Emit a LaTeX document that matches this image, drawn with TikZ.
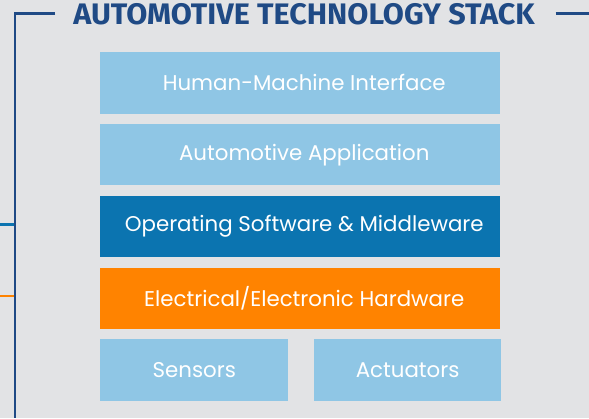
\documentclass[tikz,border=0pt]{standalone}
\usepackage{fontspec}
\setmainfont{Poppins}
\newfontfamily\titlefont{Fira Sans}
\definecolor{bgray}{HTML}{E2E3E5}
\definecolor{navy}{HTML}{1F4A85}
\definecolor{skyblue}{HTML}{8FC6E5}
\definecolor{deepblue}{HTML}{0B74B0}
\definecolor{amber}{HTML}{FF8300}
\begin{document}
\begin{tikzpicture}[x=0.75pt,y=-0.75pt,
    layer/.style={anchor=north west,inner sep=0pt,minimum width=300pt,minimum height=46pt,
      text=white,font=\fontsize{16}{19}\selectfont},
    halflayer/.style={layer,minimum width=141pt},
    frame/.style={navy,line width=1.6pt},
    stub/.style={line width=1.6pt}]
  \fill[bgray] (0,0) rectangle (589,418);
  \useasboundingbox (0,0) rectangle (589,418);
  % title and frame
  \node[navy,inner sep=0pt,anchor=base] (title) at (304,24)
    {\resizebox{346pt}{15.8pt}{\titlefont\bfseries AUTOMOTIVE TECHNOLOGY STACK}};
  \coordinate (tl) at (55,13.5);
  \coordinate (corner) at (15,13.5);
  \coordinate (bl) at (15,418);
  \coordinate (tr) at (555.5,13.5);
  \coordinate (tre) at (589,13.5);
  \draw[frame] (tl) -- (corner) -- (bl);
  \draw[frame] (tr) -- (tre);
  % layers
  \node[layer,fill=skyblue] (hmi) at (100,52) {\hspace*{6pt}Human-Machine Interface};
  \node[layer,fill=skyblue] (app) at (100,123.75) {\hspace*{6pt}Automotive Application};
  \node[layer,fill=deepblue] (os) at (100,195.5) {\hspace*{6pt}Operating Software \& Middleware};
  \node[layer,fill=amber] (hw) at (100,267.25) {\hspace*{6pt}Electrical/Electronic Hardware};
  \node[halflayer,fill=skyblue] (sens) at (100,339) {Sensors};
  \node[halflayer,minimum width=140pt,fill=skyblue] (act) at (314,339) {Actuators};
  % stubs
  \coordinate (osin) at (0,224.5);
  \coordinate (osout) at (14,224.5);
  \coordinate (hwin) at (0,296);
  \coordinate (hwout) at (14,296);
  \draw[stub,deepblue] (osin) -- (osout);
  \draw[stub,amber] (hwin) -- (hwout);
\end{tikzpicture}
\end{document}
